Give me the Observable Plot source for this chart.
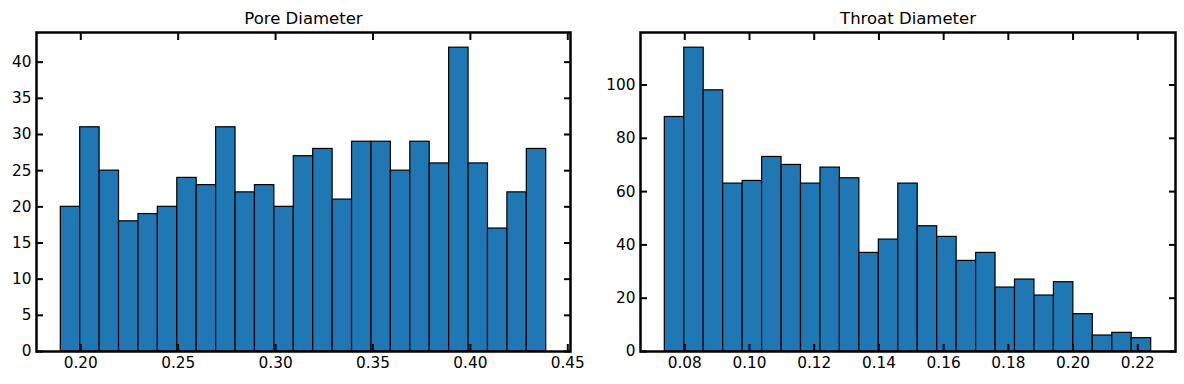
<!DOCTYPE html>
<html><head><meta charset="utf-8">
<script src="https://cdn.jsdelivr.net/npm/d3@7"></script>
<script src="https://cdn.jsdelivr.net/npm/@observablehq/plot@0.6"></script>
<style>
html,body{margin:0;padding:0;background:#fff;}
#wrap{position:relative;width:1184px;height:384px;overflow:hidden;}
#wrap svg{position:absolute;top:0;}
</style></head><body><div id="wrap"></div>
<script>
// Pore diameter histogram (25 bins)
const poreTitle = "Pore Diameter";
const poreMin = 0.18973, poreMax = 0.43893;
const poreCounts = [20,31,25,18,19,20,24,23,31,22,23,20,27,28,21,29,29,25,29,26,42,26,17,22,28];
const poreTicksX = [0.20,0.25,0.30,0.35,0.40,0.45];
const poreTicksY = [0,5,10,15,20,25,30,35,40];

// Throat diameter histogram (25 bins)
const throatTitle = "Throat Diameter";
const throatMin = 0.07383, throatMax = 0.22414;
const throatCounts = [88,114,98,63,64,73,70,63,69,65,37,42,63,47,43,34,37,24,27,21,26,14,6,7,5];
const throatTicksX = [0.08,0.10,0.12,0.14,0.16,0.18,0.20,0.22];
const throatTicksY = [0,20,40,60,80,100];

function panel({title, lo, hi, counts, ticksX, ticksY, left, width, mL, mR}) {
  const n = counts.length, w = (hi - lo) / n;
  const bins = counts.map((c, i) => ({x1: lo + i * w, x2: lo + (i + 1) * w, y: c}));
  const pad = 0.05 * (hi - lo);
  const ymax = d3.max(counts) * 1.05;
  const fs = 15.3;
  const svg = Plot.plot({
    width, height: 384,
    marginLeft: mL, marginRight: mR, marginTop: 32, marginBottom: 33,
    style: {fontFamily: "DejaVu Sans", fontSize: "15.3px", background: "white", color: "black", overflow: "visible"},
    x: {type: "linear", domain: [lo - pad, hi + pad], label: null},
    y: {type: "linear", domain: [0, ymax], label: null},
    marks: [
      Plot.rectY(bins, {x1: "x1", x2: "x2", y: "y", fill: "#1f77b4", stroke: "black", strokeWidth: 1.2, inset: 0}),
      Plot.axisX(ticksX, {anchor: "bottom", tickSize: 0, tickPadding: 6, tickFormat: d3.format(".2f"), fontSize: fs, fill: "black", label: null}),
      Plot.axisX(ticksX, {anchor: "bottom", tickSize: -7, strokeWidth: 2, text: null, label: null}),
      Plot.axisX(ticksX, {anchor: "top", tickSize: -7, strokeWidth: 2, text: null, label: null}),
      Plot.axisY(ticksY, {anchor: "left", tickSize: 0, tickPadding: 5, tickFormat: d => String(d), fontSize: fs, fill: "black", label: null}),
      Plot.axisY(ticksY, {anchor: "left", tickSize: -7, strokeWidth: 2, text: null, label: null}),
      Plot.axisY(ticksY, {anchor: "right", tickSize: -7, strokeWidth: 2, text: null, label: null}),
      Plot.frame({stroke: "black", strokeWidth: 2.5}),
      Plot.text([title], {frameAnchor: "top", dy: -14, lineAnchor: "middle", fontSize: 16.5, fill: "black"})
    ]
  });
  svg.style.left = left + "px";
  document.getElementById("wrap").appendChild(svg);
}

panel({title: poreTitle, lo: poreMin, hi: poreMax, counts: poreCounts, ticksX: poreTicksX, ticksY: poreTicksY,
       left: 0, width: 592, mL: 36, mR: 22});
panel({title: throatTitle, lo: throatMin, hi: throatMax, counts: throatCounts, ticksX: throatTicksX, ticksY: throatTicksY,
       left: 592, width: 592, mL: 48, mR: 9});
</script>
</body></html>
